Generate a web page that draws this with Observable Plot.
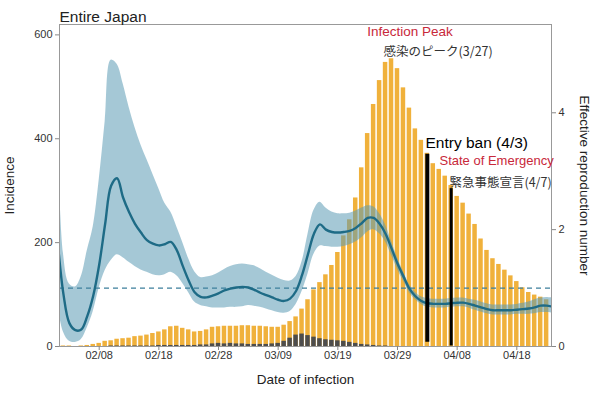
<!DOCTYPE html>
<html><head><meta charset="utf-8">
<script src="https://cdn.jsdelivr.net/npm/d3@7"></script>
<script src="https://cdn.jsdelivr.net/npm/@observablehq/plot@0.6"></script>
<style>body{margin:0;background:#fff;}#chart svg{display:block;}</style>
</head><body><div id="chart"></div>
<script>
// ---- data ----
const barStart = "2020-02-02";
// total daily incidence (Feb 2 .. Apr 23)
const incidenceTotal = [
  1, 1, 0, 1, 2, 4, 6, 10, 11, 14, 15, 16, 19, 20, 22, 25, 28, 32, 38, 39, 35, 32, 28, 29, 32, 37, 38, 39,
  39, 39, 40, 40, 39, 39, 38, 37, 37, 41, 48, 57, 72, 90, 109, 123, 138, 156, 181, 213, 244, 286, 344, 410, 466, 512, 547, 554, 535, 498, 459,
  419, 397, 372, 352, 341, 328, 310, 289, 276, 255, 235, 207, 185, 169, 158, 147, 136, 125, 113, 104, 99, 95, 90
];
// imported part of incidence (dark bars)
const incidenceImported = [
  0, 0, 0, 0, 0, 0, 0, 0, 1, 1, 1, 1, 1, 1, 1, 1, 2, 2, 2, 2, 2, 2, 2, 3, 3, 5, 6, 5,
  6, 5, 5, 4, 4, 4, 4, 5, 6, 10, 16, 22, 24, 21, 18, 15, 13, 12, 11, 10, 8, 6, 4, 3, 2, 1, 1, 0, 0, 0, 0,
  0, 0, 0, 0, 0, 0, 0, 0, 0, 0, 0, 0, 0, 0, 0, 0, 0, 0, 0, 0, 0, 0, 0
];
const rtStart = "2020-02-01";
// effective reproduction number (Feb 1 .. Apr 24)
const rtMedian = [
  1.85, 0.90, 0.40, 0.28, 0.29, 0.52, 0.87, 1.40, 2.10, 2.75, 2.88, 2.55, 2.30, 2.10, 1.95, 1.82, 1.76, 1.73, 1.75, 1.79, 1.65, 1.38, 1.13, 0.93, 0.85, 0.84, 0.87, 0.91, 0.96,
  0.99, 1.01, 1.02, 1.01, 0.97, 0.92, 0.88, 0.84, 0.80, 0.78, 0.82, 0.95, 1.22, 1.58, 1.93, 2.09, 2.00, 1.96, 1.95, 1.96, 1.98, 2.03, 2.11, 2.20, 2.20, 2.10, 1.93, 1.68, 1.42, 1.20, 0.99,
  0.86, 0.78, 0.74, 0.73, 0.73, 0.73, 0.74, 0.75, 0.75, 0.73, 0.70, 0.67, 0.64, 0.62, 0.62, 0.62, 0.62, 0.63, 0.64, 0.65, 0.67, 0.70, 0.70, 0.68
];
const rtUpper = [
  3.90, 1.60, 1.07, 1.02, 1.20, 1.64, 2.05, 2.85, 3.85, 4.90, 4.83, 4.50, 4.10, 3.75, 3.45, 3.20, 2.95, 2.70, 2.45, 2.30, 2.05, 1.78, 1.50, 1.28, 1.18, 1.19, 1.21, 1.26, 1.32,
  1.37, 1.40, 1.41, 1.40, 1.38, 1.33, 1.27, 1.22, 1.17, 1.13, 1.12, 1.20, 1.45, 1.92, 2.33, 2.47, 2.37, 2.30, 2.27, 2.27, 2.28, 2.32, 2.37, 2.41, 2.39, 2.27, 2.08, 1.80, 1.52, 1.28, 1.06,
  0.93, 0.85, 0.82, 0.81, 0.81, 0.81, 0.82, 0.83, 0.83, 0.81, 0.79, 0.76, 0.73, 0.71, 0.71, 0.71, 0.71, 0.72, 0.74, 0.76, 0.80, 0.83, 0.84, 0.83
];
const rtLower = [
  0.75, 0.25, 0.09, 0.07, 0.12, 0.32, 0.60, 1.00, 1.30, 1.47, 1.57, 1.52, 1.44, 1.37, 1.31, 1.27, 1.23, 1.21, 1.23, 1.27, 1.21, 1.08, 0.92, 0.76, 0.70, 0.68, 0.66, 0.66, 0.66,
  0.67, 0.67, 0.68, 0.70, 0.69, 0.67, 0.64, 0.61, 0.58, 0.57, 0.60, 0.72, 0.94, 1.24, 1.58, 1.72, 1.71, 1.70, 1.70, 1.71, 1.74, 1.79, 1.86, 1.96, 2.00, 1.93, 1.79, 1.56, 1.32, 1.12, 0.92,
  0.80, 0.72, 0.67, 0.66, 0.66, 0.66, 0.67, 0.68, 0.68, 0.66, 0.62, 0.59, 0.56, 0.54, 0.54, 0.54, 0.54, 0.55, 0.55, 0.55, 0.56, 0.58, 0.58, 0.57
];
const rtThreshold = [1];
const xDomain = ["2020-02-01T08:18Z", "2020-04-23T19:35Z"];
const xTicks = ["2020-02-08", "2020-02-18", "2020-02-28", "2020-03-09", "2020-03-19", "2020-03-29", "2020-04-08", "2020-04-18"];
const yTicksLeft = [0, 200, 400, 600];
const yTicksRight = [0, 2, 4];
const yMax = 620;
const rtToIncidence = 112.5; // 1 unit of Rt on the right axis = 112.5 incidence units
const events = [
  {date: "2020-04-03", bottom: 8, top: 370},
  {date: "2020-04-07", bottom: 1, top: 304}
];
const annotations = [
  {label: "Infection Peak", date: "2020-03-31T02:30Z", value: 606},
  {label: "感染のピーク(3/27)", date: "2020-04-04T19:40Z", value: 568},
  {label: "Entry ban (4/3)", date: "2020-04-02T16:30Z", value: 391},
  {label: "State of Emergency", date: "2020-04-05T01:00Z", value: 357},
  {label: "緊急事態宣言(4/7)", date: "2020-04-06T17:00Z", value: 314}
];

// ---- tables ----
const bars = incidenceTotal.map((v, i) => ({
  date: d3.utcDay.offset(new Date(barStart), i), total: v, imported: incidenceImported[i]
}));
const rt = rtMedian.map((v, i) => ({
  date: d3.utcDay.offset(new Date(rtStart), i), mid: v, hi: rtUpper[i], lo: rtLower[i]
}));
const k = rtToIncidence;
const latin = "'Liberation Sans', Arial, sans-serif";
const cjk = "'Noto Sans CJK JP', 'Noto Sans CJK SC', sans-serif";
const annStyles = [
  {fill: "#c8283a", fontSize: 13.5, textAnchor: "middle", fontFamily: latin},
  {fill: "#333", fontSize: 12.5, textAnchor: "middle", fontFamily: cjk},
  {fill: "#000", fontSize: 15.5, textAnchor: "start", fontFamily: latin},
  {fill: "#c8283a", fontSize: 13, textAnchor: "start", fontFamily: latin},
  {fill: "#333", fontSize: 12.5, textAnchor: "start", fontFamily: cjk}
];
const eventWidths = [4, 3];

const chart = Plot.plot({
  width: 600, height: 396,
  marginLeft: 59, marginRight: 49, marginTop: 24, marginBottom: 50,
  x: {type: "utc", domain: xDomain.map(s => new Date(s))},
  y: {domain: [0, yMax]},
  style: {fontFamily: latin, background: "#fff", color: "#333"},
  marks: [
    Plot.rect(bars, {x1: d => d3.utcHour.offset(d.date, -9), x2: d => d3.utcHour.offset(d.date, 9), y1: 0, y2: "total", fill: "#f0b13b"}),
    Plot.rect(bars, {x1: d => d3.utcHour.offset(d.date, -9), x2: d => d3.utcHour.offset(d.date, 9), y1: 0, y2: "imported", fill: "#4d4d4d"}),
    Plot.areaY(rt, {x: "date", y1: d => d.lo * k, y2: d => d.hi * k, fill: "#5b9ab5", fillOpacity: 0.55, curve: "catmull-rom", clip: true}),
    Plot.ruleY(rtThreshold, {y: d => d * k, stroke: "#3c7f9c", strokeWidth: 1.2, strokeDasharray: "5,4"}),
    Plot.lineY(rt, {x: "date", y: d => d.mid * k, stroke: "#1e6b86", strokeWidth: 2.4, curve: "catmull-rom", clip: true}),
    ...events.map((e, i) => Plot.ruleX([e], {x: d => new Date(d.date), y1: "bottom", y2: "top", stroke: "#000", strokeWidth: eventWidths[i]})),
    Plot.frame({stroke: "#999"}),
    Plot.axisX(xTicks.map(s => new Date(s)), {tickFormat: d3.utcFormat("%m/%d"), tickSize: 4, tickPadding: 1, label: null, fontSize: 11, stroke: "#888", fill: "#333"}),
    Plot.axisY(yTicksLeft, {anchor: "left", tickSize: 4, tickPadding: 3, label: null, fontSize: 11, stroke: "#888", fill: "#333"}),
    Plot.axisY(yTicksRight.map(v => v * k), {anchor: "right", tickFormat: d => String(Math.round(d / k)), tickSize: 4, tickPadding: 3, label: null, fontSize: 11, stroke: "#888", fill: "#333"}),
    Plot.text(["Entire Japan"], {text: d => d, frameAnchor: "top-left", dy: -14, textAnchor: "start", fontSize: 15.5, fill: "#222"}),
    Plot.text(["Incidence"], {text: d => d, frameAnchor: "left", dx: -50, rotate: -90, textAnchor: "middle", fontSize: 13.5, fill: "#222"}),
    Plot.text(["Effective reproduction number"], {text: d => d, frameAnchor: "right", dx: 33, rotate: 90, textAnchor: "middle", fontSize: 13.5, fill: "#222"}),
    Plot.text(["Date of infection"], {text: d => d, frameAnchor: "bottom", dy: 37, textAnchor: "middle", fontSize: 13.5, fill: "#222"}),
    ...annotations.map((a, i) => Plot.text([a], {x: d => new Date(d.date), y: "value", text: "label", lineAnchor: "middle", ...annStyles[i]}))
  ]
});
document.getElementById("chart").appendChild(chart);
</script>
</body></html>
